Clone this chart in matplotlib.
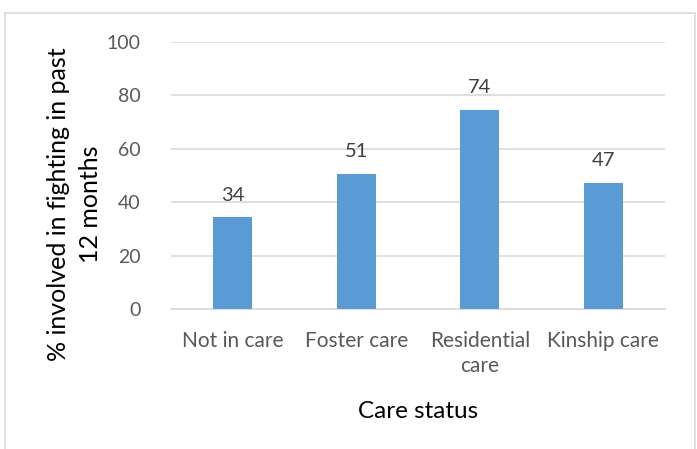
import numpy as np
import matplotlib.pyplot as plt
from matplotlib.patches import Rectangle

# dane
kategorie = ['Not in care', 'Foster care', 'Residential\ncare', 'Kinship care']
wartosci = [34.3, 50.6, 74.4, 47.1]
etykiety = ['34', '51', '74', '47']
yticks = [0, 20, 40, 60, 80, 100]

plt.rcParams['font.family'] = ['Lato', 'DejaVu Sans']

fig = plt.figure(figsize=(6.97, 4.49), dpi=100)
ax = fig.add_axes([171/697, 1 - 309/449, 494/697, 267/449])

# ramka wykresu
fig.patches.append(Rectangle((5/697, -0.05), 690/697, 1.05 - 13/449,
                             transform=fig.transFigure, fill=False,
                             edgecolor='#D9D9D9', lw=1.2))

x = np.arange(len(kategorie))
ax.bar(x, wartosci, width=0.316, color='#5B9BD5', zorder=3)

for xi, v, t in zip(x, wartosci, etykiety):
    ax.annotate(t, (xi, v), xytext=(0, 10), textcoords='offset points',
                ha='center', va='bottom', fontsize=14.5, color='#404040')

ax.set_xlim(-0.5, len(kategorie) - 0.5)
ax.set_ylim(0, 100)
ax.set_yticks(yticks)
ax.set_xticks(x)
ax.set_xticklabels(kategorie, fontsize=15, color='#595959', linespacing=1.3)
ax.tick_params(axis='y', labelsize=14)
ax.tick_params(axis='both', length=0, colors='#595959')
ax.tick_params(axis='x', pad=16)
ax.tick_params(axis='y', pad=22)
ax.grid(axis='y', color='#D9D9D9', lw=1.2, zorder=0)
for s in ['top', 'right', 'left']:
    ax.spines[s].set_visible(False)
ax.spines['bottom'].set_color('#D9D9D9')
ax.spines['bottom'].set_linewidth(1.2)

ax.set_xlabel('Care status', fontsize=17.5, color='black', labelpad=18)
ax.set_ylabel('% involved in fighting in past\n12 months', fontsize=18,
              color='black', linespacing=1.45)
ax.yaxis.set_label_coords(-0.14, 0.393)

plt.savefig('out.png', dpi=100)
